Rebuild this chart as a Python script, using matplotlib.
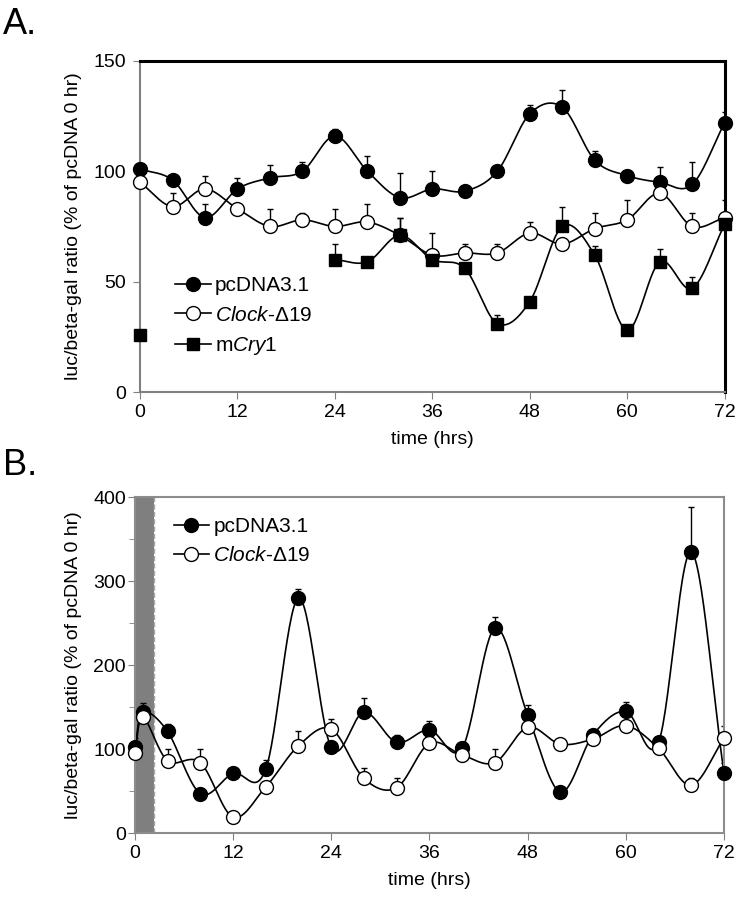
import numpy as np
import matplotlib
matplotlib.use('Agg')
import matplotlib.pyplot as plt
from matplotlib.ticker import MultipleLocator

plt.rcParams['font.family'] = ['Liberation Sans', 'DejaVu Sans']
plt.rcParams['mathtext.fontset'] = 'custom'
plt.rcParams['mathtext.rm'] = 'Liberation Sans'
plt.rcParams['mathtext.it'] = 'Liberation Sans:italic'

# ---- panel A data ----
tA = [0, 4, 8, 12, 16, 20, 24, 28, 32, 36, 40, 44, 48, 52, 56, 60, 64, 68, 72]
pc_A = [101, 96, 79, 92, 97, 100, 116, 100, 88, 92, 91, 100, 126, 129, 105, 98, 95, 94, 122]
pc_A_err = [0, 0, 6, 5, 6, 4, 3, 7, 11, 8, 0, 0, 4, 8, 4, 0, 7, 10, 5]
clk_A = [95, 84, 92, 83, 75, 78, 75, 77, 71, 62, 63, 63, 72, 67, 74, 78, 90, 75, 79]
clk_A_err = [0, 6, 6, 0, 8, 3, 8, 8, 8, 10, 4, 4, 5, 0, 7, 9, 8, 6, 8]
tCry = [24, 28, 32, 36, 40, 44, 48, 52, 56, 60, 64, 68, 72]
cry_A = [60, 59, 71, 60, 56, 31, 41, 75, 62, 28, 59, 47, 76]
cry_A_err = [7, 0, 8, 0, 0, 4, 0, 9, 4, 0, 6, 5, 0]
cry0 = 26

# ---- panel B data ----
tB = [0, 1, 4, 8, 12, 16, 20, 24, 28, 32, 36, 40, 44, 48, 52, 56, 60, 64, 68, 72]
pc_B = [103, 144, 121, 47, 71, 76, 280, 102, 144, 108, 123, 101, 244, 141, 49, 117, 145, 108, 335, 72]
pc_B_err = [10, 11, 9, 0, 0, 11, 11, 0, 17, 9, 10, 0, 13, 11, 0, 0, 11, 0, 53, 12]
clk_B = [95, 138, 86, 84, 19, 55, 104, 124, 65, 54, 107, 93, 84, 126, 106, 112, 128, 101, 57, 113]
clk_B_err = [0, 0, 14, 16, 0, 0, 18, 12, 12, 12, 0, 0, 16, 0, 0, 0, 0, 0, 9, 14]
band_end = 2.3   # shaded interval at the start of panel B


def smooth(x, y, n=30):
    # Catmull-Rom curve through the points (like Excel smoothed lines)
    x = np.asarray(x, float)
    y = np.asarray(y, float)
    px = np.concatenate([[2 * x[0] - x[1]], x, [2 * x[-1] - x[-2]]])
    py = np.concatenate([[2 * y[0] - y[1]], y, [2 * y[-1] - y[-2]]])
    xs, ys = [], []
    s = np.linspace(0, 1, n)
    for i in range(1, len(px) - 2):
        for p, out in ((px, xs), (py, ys)):
            p0, p1, p2, p3 = p[i - 1], p[i], p[i + 1], p[i + 2]
            out.append(0.5 * ((2 * p1) + (-p0 + p2) * s
                              + (2 * p0 - 5 * p1 + 4 * p2 - p3) * s ** 2
                              + (-p0 + 3 * p1 - 3 * p2 + p3) * s ** 3))
    return np.concatenate(xs), np.concatenate(ys)


def series(ax, t, y, err, marker, fc, ms):
    sx, sy = smooth(t, y)
    ax.plot(sx, sy, color='black', lw=1.2, zorder=2)
    ax.errorbar(t, y, yerr=[np.zeros(len(err)), err], fmt='none',
                ecolor='black', elinewidth=1, capsize=2.5, capthick=1, zorder=2)
    ax.plot(t, y, ls='none', marker=marker, ms=ms, mfc=fc, mec='black',
            mew=1, zorder=3, clip_on=False)


fig = plt.figure(figsize=(7.41, 9), dpi=100)

legA = [('o', 'black', 10, 'pcDNA3.1'), ('o', 'white', 10, r'$\it{Clock}$-Δ19'),
        ('s', 'black', 9, r'm$\it{Cry}$1')]

# ---------- A ----------
axA = fig.add_axes([0.189, 0.5644, 0.789, 0.368])
series(axA, tA, pc_A, pc_A_err, 'o', 'black', 10)
series(axA, tA, clk_A, clk_A_err, 'o', 'white', 10)
series(axA, tCry, cry_A, cry_A_err, 's', 'black', 9)
axA.plot([0], [cry0], ls='none', marker='s', ms=9, mfc='black', mec='black',
         zorder=3, clip_on=False)
axA.set_xlim(0, 72)
axA.set_ylim(0, 150)
axA.set_xticks(range(0, 73, 12))
axA.set_yticks([0, 50, 100, 150])
for s in ['left', 'bottom']:
    axA.spines[s].set_color('#808080')
    axA.spines[s].set_linewidth(1.5)
for s in ['top', 'right']:
    axA.spines[s].set_color('black')
    axA.spines[s].set_linewidth(2.2)
axA.tick_params(direction='out', length=5, color='#808080', labelsize=14)
axA.tick_params(axis='y', pad=5)
axA.set_xlabel('time (hrs)', fontsize=14, labelpad=7)
axA.set_ylabel('luc/beta-gal ratio (% of pcDNA 0 hr)', fontsize=14, labelpad=8)

handles = []
for m, fc, ms, lab in legA:
    h, = axA.plot([], [], color='black', lw=1.2, marker=m, ms=ms, mfc=fc,
                  mec='black', label=lab)
    handles.append(h)
axA.legend(handles=handles, loc='upper left', bbox_to_anchor=(0.06, 0.35),
           borderaxespad=0, borderpad=0, frameon=False, fontsize=15,
           handlelength=1.7, handletextpad=0.2, labelspacing=0.5)
fig.text(0.004, 0.962, 'A.', fontsize=26)

# ---------- B ----------
axB = fig.add_axes([0.182, 0.0744, 0.795, 0.373])
axB.axvspan(0, band_end, color='#7f7f7f', lw=0, zorder=0)
axB.axvline(band_end, color='#a8a8a8', lw=1, ls='--', zorder=0)
series(axB, tB, pc_B, pc_B_err, 'o', 'black', 10)
series(axB, tB, clk_B, clk_B_err, 'o', 'white', 10)
axB.set_xlim(0, 72)
axB.set_ylim(0, 400)
axB.set_xticks(range(0, 73, 12))
axB.yaxis.set_major_locator(MultipleLocator(100))
axB.yaxis.set_minor_locator(MultipleLocator(50))
for s in axB.spines.values():
    s.set_color('#8c8c8c')
    s.set_linewidth(1.5)
axB.tick_params(which='both', direction='out', length=5, color='#808080', labelsize=14)
axB.tick_params(which='minor', length=4)
axB.tick_params(axis='y', pad=1.5)
axB.set_xlabel('time (hrs)', fontsize=14, labelpad=7)
axB.set_ylabel('luc/beta-gal ratio (% of pcDNA 0 hr)', fontsize=14, labelpad=8)

hB = []
for m, fc, ms, lab in legA[:2]:
    h, = axB.plot([], [], color='black', lw=1.2, marker=m, ms=ms, mfc=fc,
                  mec='black', label=lab)
    hB.append(h)
axB.legend(handles=hB, loc='upper left', bbox_to_anchor=(0.066, 0.942),
           borderaxespad=0, borderpad=0, frameon=False, fontsize=15,
           handlelength=1.7, handletextpad=0.2, labelspacing=0.5)
fig.text(0.004, 0.472, 'B.', fontsize=26)

fig.savefig('out.png', dpi=100)
